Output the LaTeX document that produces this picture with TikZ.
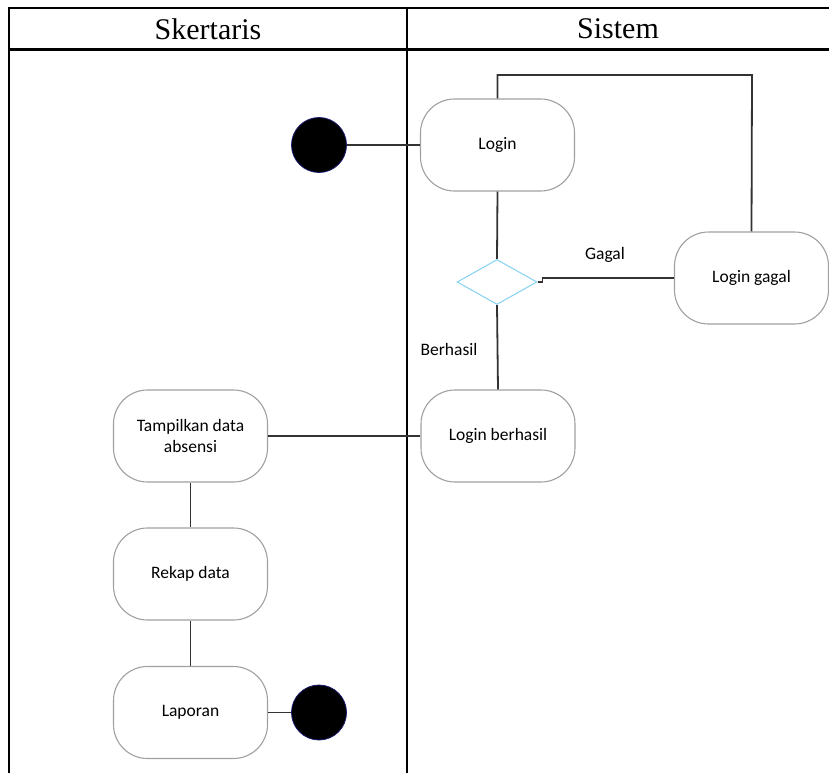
\documentclass[tikz,border=0pt]{standalone}
\usepackage{fontspec}
\setmainfont{Liberation Serif}
\newfontfamily\nodefont{Carlito}
\usetikzlibrary{shapes.geometric}
\definecolor{boxgray}{HTML}{A0A0A0}
\definecolor{linegray}{HTML}{333333}
\definecolor{diablue}{HTML}{8ED4F2}
\definecolor{circblue}{HTML}{1A1A6E}
\tikzset{
  act/.style={draw=boxgray, line width=1.1pt, rounded corners=34pt, fill=white,
    minimum width=154pt, minimum height=92pt, inner sep=2pt, align=center,
    font=\nodefont\fontsize{17.5}{20.5}\selectfont},
  dot/.style={circle, fill=black, draw=circblue, line width=0.8pt, minimum size=55pt, inner sep=0pt},
  conn/.style={draw=linegray, line width=1.8pt},
  tbl/.style={draw=black, line width=2.4pt},
  lbl/.style={font=\nodefont\fontsize{17.5}{20.5}\selectfont},
  hdr/.style={font=\fontsize{30}{33}\selectfont},
  choice/.style={diamond, draw=diablue, line width=1.1pt, minimum width=80pt, minimum height=45pt, inner sep=0pt}
}
\begin{document}
\begin{tikzpicture}[x=1pt,y=-1pt]
\useasboundingbox (0,0) rectangle (829,773);
% table
\draw[tbl] (8,7.8) -- (829,7.8);
\draw[tbl] (8,49.5) -- (829,49.5);
\draw[tbl] (9,6.6) -- (9,773);
\draw[tbl] (407,6.6) -- (407,773);
\node[hdr] (h1) at (208,29) {Skertaris};
\node[hdr] (h2) at (618,29) {Sistem};
% nodes
\node[dot] (start) at (319,145) {};
\node[act] (login) at (497.5,145) {Login};
\node[choice] (dec) at (497,282) {};
\node[act] (lgagal) at (751.5,278) {Login gagal};
\node[act] (lberhasil) at (498,436) {Login berhasil};
\node[act] (tampil) at (190.5,436) {Tampilkan data\\absensi};
\node[act] (rekap) at (190.5,574) {Rekap data};
\node[act] (lapor) at (190.5,712.5) {Laporan};
\node[dot] (end) at (319,712.5) {};
\node[lbl] (gagal) at (605,255) {Gagal};
\node[lbl] (berhasil) at (449,349) {Berhasil};
\coordinate (looptop) at (752,75);
% connectors
\draw[conn] (start) -- (login.west);
\draw[conn] (login.south) -- (dec.north);
\draw[conn] (dec.east) -- ++(5,0) |- (lgagal.west);
\draw[conn] (lgagal.north) -- (looptop) -| (login.north);
\draw[conn] (dec.south) -- (lberhasil.north);
\draw[conn] (lberhasil.west) -- (tampil.east);
\draw[conn] (tampil.south) -- (rekap.north);
\draw[conn] (rekap.south) -- (lapor.north);
\draw[conn] (lapor.east) -- (end);
\end{tikzpicture}
\end{document}
